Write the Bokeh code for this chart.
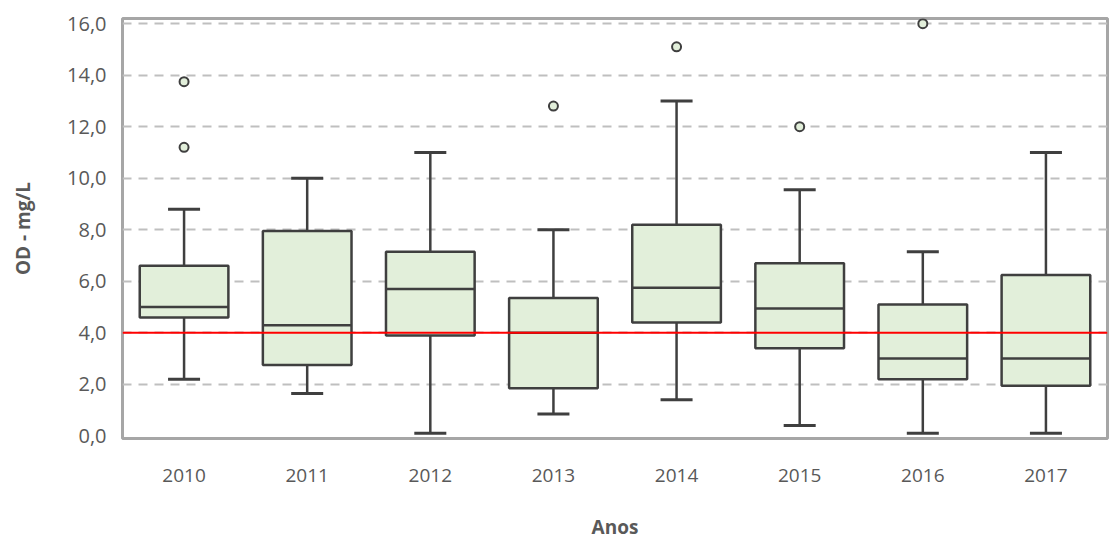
from bokeh.plotting import figure
from bokeh.models import (ColumnDataSource, FactorRange, Range1d, FixedTicker,
                          CustomJSTickFormatter, Span)
from bokeh.transform import dodge
from bokeh.embed import file_html
from bokeh.resources import INLINE

years = ["2010", "2011", "2012", "2013", "2014", "2015", "2016", "2017"]
lower = [2.2, 1.65, 0.1, 0.85, 1.4, 0.4, 0.1, 0.1]
q1 = [4.6, 2.75, 3.9, 1.85, 4.4, 3.4, 2.2, 1.95]
median = [5.0, 4.3, 5.7, 4.0, 5.75, 4.95, 3.0, 3.0]
q3 = [6.6, 7.95, 7.15, 5.35, 8.2, 6.7, 5.1, 6.25]
upper = [8.8, 10.0, 11.0, 8.0, 13.0, 9.55, 7.15, 11.0]
out_years = ["2010", "2010", "2013", "2014", "2015", "2016"]
out_values = [13.75, 11.2, 12.8, 15.1, 12.0, 16.0]
reference = 4.0
y_ticks = [0, 2, 4, 6, 8, 10, 12, 14, 16]

src = ColumnDataSource(dict(year=years, lower=lower, q1=q1, median=median,
                            q3=q3, upper=upper))
osrc = ColumnDataSource(dict(year=out_years, val=out_values))

FONT = "Open Sans"
TXT = "#595959"
EDGE = "#3f3f3f"
FILL = "#e2efda"

p = figure(x_range=FactorRange(*years), y_range=Range1d(-0.1, 16.2),
           frame_width=985, frame_height=420,
           min_border_left=122, min_border_top=18, min_border_right=2,
           min_border_bottom=0,
           output_backend="svg", toolbar_location=None)

p.background_fill_color = "white"
p.border_fill_color = "white"
p.outline_line_color = "#a6a6a6"
p.outline_line_width = 3

p.xgrid.grid_line_color = None
p.ygrid.grid_line_color = "#bfbfbf"
p.ygrid.grid_line_width = 2
p.ygrid.grid_line_dash = "9 7"
p.ygrid.ticker = FixedTicker(ticks=y_ticks[1:])

p.yaxis.ticker = FixedTicker(ticks=y_ticks)
p.yaxis.formatter = CustomJSTickFormatter(code="return tick.toFixed(1).replace('.', ',');")

for ax in (p.xaxis, p.yaxis):
    ax.axis_line_color = None
    ax.major_tick_line_color = None
    ax.minor_tick_line_color = None
    ax.major_tick_out = 0
    ax.major_tick_in = 0
    ax.major_label_text_font = FONT
    ax.major_label_text_font_size = "19px"
    ax.major_label_text_color = TXT
    ax.axis_label_text_font = FONT
    ax.axis_label_text_font_size = "19px"
    ax.axis_label_text_font_style = "bold"
    ax.axis_label_text_color = TXT

p.yaxis.major_label_text_font_size = "20px"
p.xaxis.axis_label = "Anos"
p.yaxis.axis_label = "OD - mg/L"
p.xaxis.major_label_standoff = 30
p.xaxis.axis_label_standoff = 29
p.yaxis.major_label_standoff = 16
p.yaxis.axis_label_standoff = 28

# whiskers
p.segment(x0="year", y0="q3", x1="year", y1="upper", source=src,
          line_color=EDGE, line_width=2.5)
p.segment(x0="year", y0="lower", x1="year", y1="q1", source=src,
          line_color=EDGE, line_width=2.5)
# caps
p.segment(x0=dodge("year", -0.13, range=p.x_range), y0="upper",
          x1=dodge("year", 0.13, range=p.x_range), y1="upper", source=src,
          line_color=EDGE, line_width=3)
p.segment(x0=dodge("year", -0.13, range=p.x_range), y0="lower",
          x1=dodge("year", 0.13, range=p.x_range), y1="lower", source=src,
          line_color=EDGE, line_width=3)
# boxes
p.vbar(x="year", bottom="q1", top="q3", width=0.72, source=src,
       fill_color=FILL, line_color=EDGE, line_width=2.5)
# median
p.segment(x0=dodge("year", -0.36, range=p.x_range), y0="median",
          x1=dodge("year", 0.36, range=p.x_range), y1="median", source=src,
          line_color=EDGE, line_width=2.5)
# outliers
p.scatter(x="year", y="val", source=osrc, size=9, marker="circle",
          fill_color=FILL, line_color=EDGE, line_width=2)

p.add_layout(Span(location=reference, dimension="width", line_color="red",
                  line_width=2, level="overlay"))

open("out.html", "w").write(file_html(p, INLINE))
